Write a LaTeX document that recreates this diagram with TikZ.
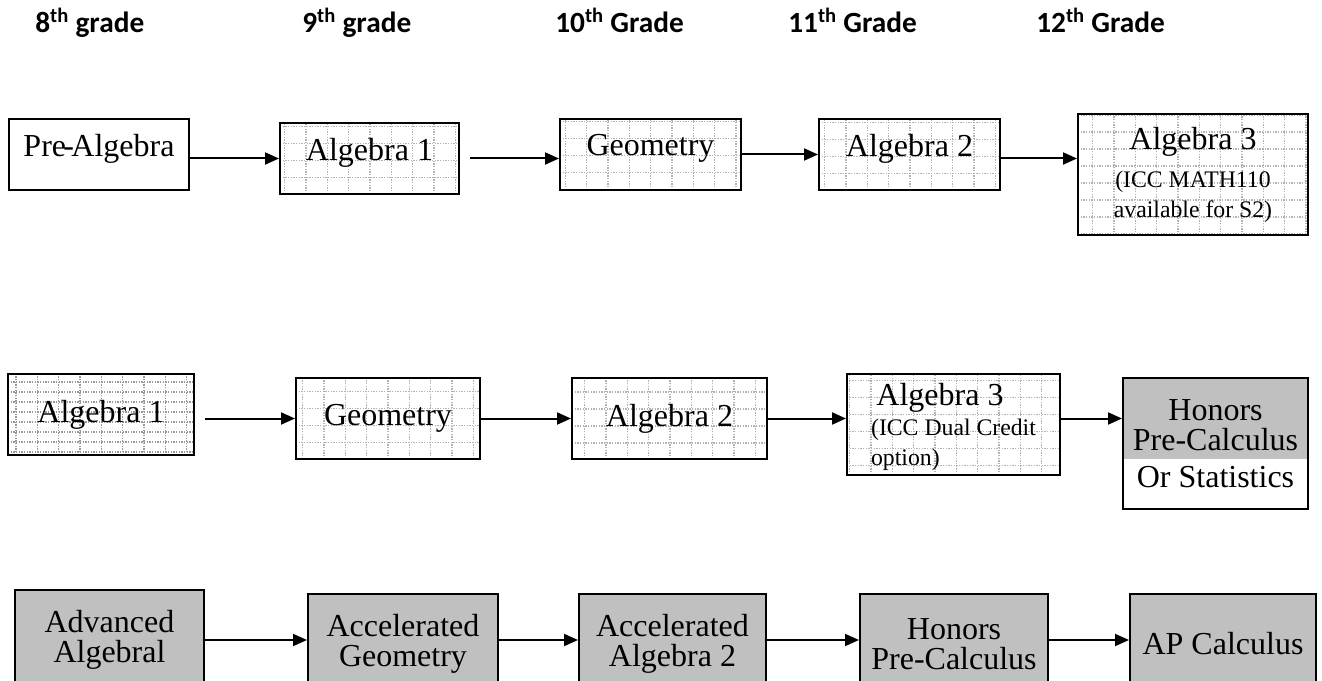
\documentclass[tikz,border=0pt]{standalone}
\usepackage{fontspec}
\setmainfont{Liberation Serif}
\newfontfamily\gradefont{Carlito}
\usetikzlibrary{positioning, arrows.meta}
\definecolor{boxgray}{RGB}{192,192,192}
\definecolor{dotgray}{RGB}{178,178,178}
\newcommand{\boxfont}{\fontsize{24pt}{22.5pt}\selectfont}
\newcommand{\notefont}{\fontsize{17.8pt}{20pt}\selectfont}
\tikzset{
    block/.style={
        draw, line width=1.5pt,
        anchor=north west,
        inner sep=2pt,
        align=center,
        font=\boxfont
    },
    raised/.style={text depth=14pt},
    gridded/.style={path picture={
        \draw[dotgray, line width=1pt, dash pattern=on 1pt off 1pt, xstep=16pt, ystep=12.75pt]
            (path picture bounding box.south west) grid (path picture bounding box.north east);}},
    densegrid/.style={path picture={
        \draw[gray!80, line width=1pt, dash pattern=on 1pt off 1pt, xstep=16pt, ystep=7.5pt]
            (path picture bounding box.south west) grid (path picture bounding box.north east);}},
    shaded/.style={fill=boxgray},
    halfshaded/.style={path picture={
        \fill[boxgray] (path picture bounding box.north west) rectangle ([yshift=-60.75pt]path picture bounding box.north east);}},
    grade/.style={anchor=base west, inner sep=0pt, font=\gradefont\bfseries\fontsize{22pt}{24pt}\selectfont},
    line/.style={-{Triangle[length=10.5pt, width=9pt]}, line width=1.5pt}
}
\begin{document}
\begin{tikzpicture}[x=0.75pt, y=-0.75pt]

    \useasboundingbox (0,0) rectangle (1322,681);

    % Grade headings
    \node[grade] (g8) at (35,33) {8\textsuperscript{th} grade};
    \node[grade] (g9) at (302,33) {9\textsuperscript{th} grade};
    \node[grade] (g10) at (555,33) {10\textsuperscript{th} Grade};
    \node[grade] (g11) at (788,33) {11\textsuperscript{th} Grade};
    \node[grade] (g12) at (1036,33) {12\textsuperscript{th} Grade};

    % First track
    \node[block, raised, minimum width=135pt, minimum height=53.25pt] (pre) at (8,118) {Pre\kern-2pt-\kern-2pt Algebra};
    \node[block, raised, gridded, minimum width=134.25pt, minimum height=53.25pt] (alg1a) at (279,122) {Algebra 1};
    \node[block, raised, gridded, minimum width=135.75pt, minimum height=53.25pt] (geoa) at (559,118) {Geometry};
    \node[block, raised, gridded, minimum width=135.75pt, minimum height=53.25pt] (alg2a) at (818,118) {Algebra 2};
    \node[block, gridded, minimum width=172.5pt, minimum height=90.75pt] (alg3a) at (1077,113)
        {Algebra 3\\[6pt]\notefont (ICC MATH110\\\notefont available for S2)};

    \draw[line] (pre.east |- alg1a) -- (alg1a.west);
    \draw[line, shorten <=7.5pt] (alg1a.east) -- (geoa.west |- alg1a);
    \draw[line] (geoa.east) -- (alg2a.west);
    \draw[line] (alg2a.east |- alg1a) -- (alg3a.west |- alg1a);

    % Second track
    \node[block, densegrid, minimum width=139.5pt, minimum height=60.75pt] (alg1b) at (7,373) {Algebra 1};
    \node[block, gridded, minimum width=138pt, minimum height=60.75pt] (geob) at (295,377) {Geometry};
    \node[block, gridded, minimum width=146.25pt, minimum height=60.75pt] (alg2b) at (571,377) {Algebra 2};
    \node[block, gridded, align=left, minimum width=159.75pt, minimum height=75.75pt, text depth=0pt] (alg3b) at (846,373)
        {\hspace*{4pt}Algebra 3\\\notefont (ICC Dual Credit\\\notefont option)};
    \node[block, halfshaded, minimum width=138.75pt, minimum height=98.25pt] (honb) at (1122,377)
        {Honors\\Pre-Calculus\\[5pt]Or Statistics};

    \draw[line, shorten <=7.5pt] (alg1b.east |- geob) -- (geob.west);
    \draw[line] (geob.east) -- (alg2b.west);
    \draw[line] (alg2b.east) -- (alg3b.west |- geob);
    \draw[line] (alg3b.east |- geob) -- (honb.west |- geob);

    % Third track
    \node[block, shaded, minimum width=141.75pt, minimum height=75pt] (adv) at (14,589) {Advanced\\Algebral};
    \node[block, shaded, minimum width=142.5pt, minimum height=75pt] (accgeo) at (307,593) {Accelerated\\Geometry};
    \node[block, shaded, minimum width=140.25pt, minimum height=75pt] (accalg) at (578,593) {Accelerated\\Algebra 2};
    \node[block, shaded, minimum width=141pt, minimum height=75pt] (honc) at (859,593) {Honors\\Pre-Calculus};
    \node[block, shaded, minimum width=139.5pt, minimum height=75pt] (apc) at (1129,593) {AP Calculus};

    \draw[line] (adv.east) -- (accgeo.west |- adv);
    \draw[line] (accgeo.east |- adv) -- (accalg.west |- adv);
    \draw[line] (accalg.east |- adv) -- (honc.west |- adv);
    \draw[line] (honc.east |- adv) -- (apc.west |- adv);

\end{tikzpicture}
\end{document}
